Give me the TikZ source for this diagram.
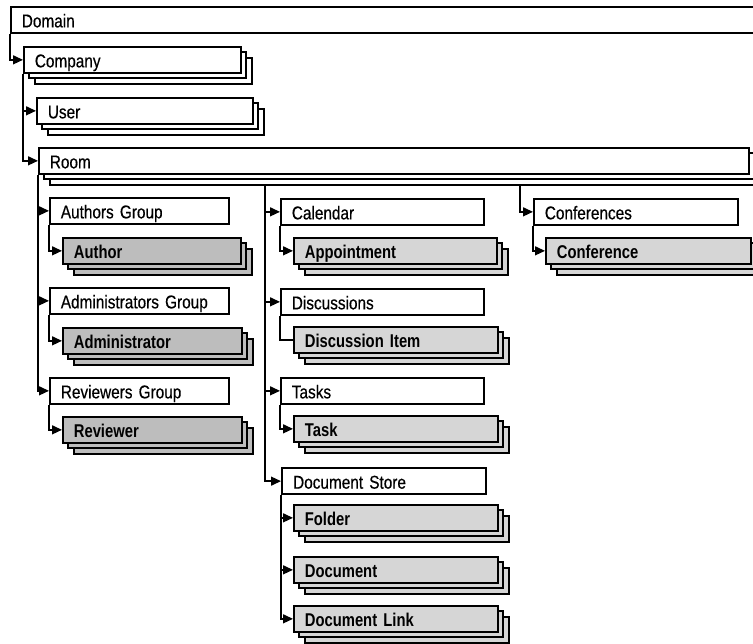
\documentclass[tikz,border=0pt]{standalone}
\usepackage{fontspec}
\setmainfont{Liberation Sans}[FakeStretch=0.83,FakeBold=0.4]
\newfontfamily\boldcond{Liberation Sans}[FakeStretch=0.80]
\usetikzlibrary{arrows.meta}
\definecolor{halfdark}{gray}{0.74}
\definecolor{halflight}{gray}{0.84}
\newcommand\obj[6][box]{\node[#1, text width={#5pt-22pt}] (#2) at (#3,#4) {#6};}
\newcommand\stk[5][white]{%
  \draw[stackline, fill=#1] (#2+12,#3+12) rectangle ++(#4,26);
  \draw[stackline, fill=#1] (#2+6,#3+6) rectangle ++(#4,26);}
\begin{document}
\begin{tikzpicture}[x=1pt,y=-1pt,
  font=\fontsize{18.5}{20}\selectfont,
  box/.style={draw, line width=1.7pt, fill=white, inner ysep=0pt, inner xsep=11pt,
    text height=20.5pt, text depth=5.5pt, anchor=north west, align=left},
  darkbox/.style={box, fill=halfdark, font=\fontsize{18.5}{20}\selectfont\boldcond\bfseries},
  lightbox/.style={box, fill=halflight, font=\fontsize{18.5}{20}\selectfont\boldcond\bfseries},
  storebox/.style={box, line width=2.3pt},
  stackline/.style={line width=1.7pt},
  conn/.style={line width=1.4pt, -{Triangle[length=10pt,width=9pt]}},
  plainconn/.style={line width=1.4pt}]
\useasboundingbox (0,0) rectangle (753,644);
\fill[white] (0,0) rectangle (753,644);
\clip (0,0) rectangle (753,644);

% top level
\obj{domain}{10}{6}{760}{Domain}
\stk{23}{46}{217}{}
\obj{company}{23}{46}{217}{Company}
\stk{36}{97}{216}{}
\obj{user}{36}{97}{216}{User}
\stk{38}{147}{710}{}
\obj{room}{38}{147}{710}{Room}

% column 1
\obj{authg}{49}{197}{179}{Authors Group}
\stk[halfdark]{62}{237}{178}{}
\obj[darkbox]{author}{62}{237}{178}{Author}
\obj{admg}{49}{287}{179}{Administrators Group}
\stk[halfdark]{62}{327}{179}{}
\obj[darkbox]{admin}{62}{327}{179}{Administrator}
\obj{revg}{49}{377}{179}{Reviewers Group}
\stk[halfdark]{62}{416}{179}{}
\obj[darkbox]{reviewer}{62}{416}{179}{Reviewer}

% column 2
\obj{calendar}{280}{198}{203}{Calendar}
\stk[halflight]{293}{237}{203}{}
\obj[lightbox]{appointment}{293}{237}{203}{Appointment}
\obj{discussions}{280}{288}{203}{Discussions}
\stk[halflight]{293}{326}{204}{}
\obj[lightbox]{discitem}{293}{326}{204}{Discussion Item}
\obj{tasks}{280}{377}{203}{Tasks}
\stk[halflight]{293}{415}{204}{}
\obj[lightbox]{task}{293}{415}{204}{Task}
\obj[storebox]{docstore}{281}{467}{204}{Document Store}
\stk[halflight]{293}{504}{204}{}
\obj[lightbox]{folder}{293}{504}{204}{Folder}
\stk[halflight]{293}{556}{204}{}
\obj[lightbox]{document}{293}{556}{204}{Document}
\stk[halflight]{293}{605}{204}{}
\obj[lightbox]{doclink}{293}{605}{204}{Document Link}

% column 3
\obj{conferences}{533}{198}{204}{Conferences}
\stk[halflight]{545}{237}{205}{}
\obj[lightbox]{conference}{545}{237}{205}{Conference}

% trunk start points
\coordinate (c2) at (265,186);
\coordinate (c3) at (520,186);

% connectors
\draw[conn] (domain.south west) |- (company.west);
\draw[conn] (company.south west) |- (user.west);
\draw[conn] (company.south west) |- (room.west);
\draw[conn] (room.south west) |- (authg.west);
\draw[conn] (room.south west) |- (admg.west);
\draw[conn] (room.south west) |- (revg.west);
\draw[conn] (authg.south west) |- (author.west);
\draw[conn] (admg.south west) |- (admin.west);
\draw[conn] (revg.south west) |- (reviewer.west);
\draw[conn] (c2) |- (calendar.west);
\draw[conn] (c2) |- (discussions.west);
\draw[conn] (c2) |- (tasks.west);
\draw[conn] (c2) |- (docstore.west);
\draw[conn] (calendar.south west) |- (appointment.west);
\draw[plainconn] (discussions.south west) |- (discitem.west);
\draw[conn] (tasks.south west) |- (task.west);
\draw[conn] (docstore.south west) |- (folder.west);
\draw[conn] (docstore.south west) |- (document.west);
\draw[conn] (docstore.south west) |- (doclink.west);
\draw[conn] (c3) |- (conferences.west);
\draw[conn] (conferences.south west) |- (conference.west);
\end{tikzpicture}
\end{document}
